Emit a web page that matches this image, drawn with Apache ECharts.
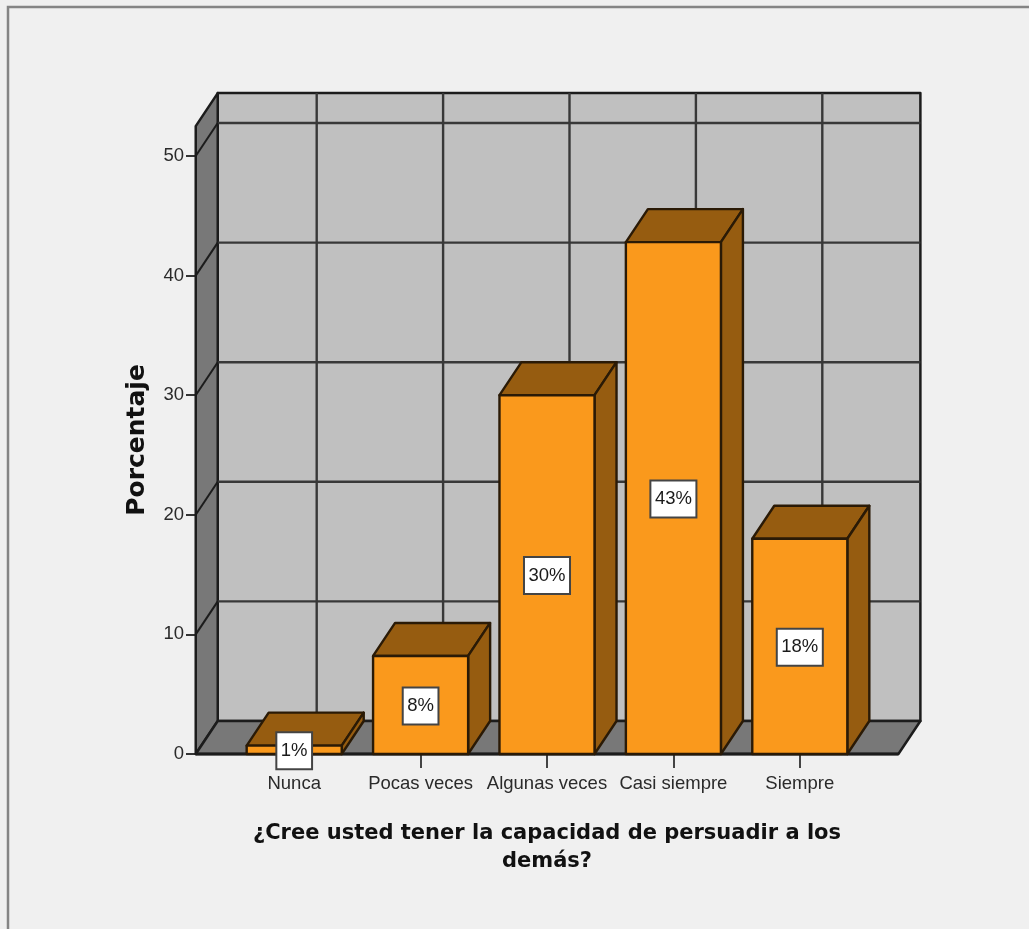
<!DOCTYPE html>
<html><head><meta charset="utf-8">
<style>html,body{margin:0;padding:0;background:#f0f0f0}#c{width:1029px;height:929px}</style>
<script src="https://cdn.jsdelivr.net/npm/echarts@6/dist/echarts.min.js"></script>
</head><body><div id="c"></div>
<script>
const categories = ['Nunca','Pocas veces','Algunas veces','Casi siempre','Siempre'];
const percentages = [0.7, 8.2, 30.0, 42.8, 18.0];
const barLabels = ['1%','8%','30%','43%','18%'];
const yTicks = [0,10,20,30,40,50];
const yWallTop = 52.5;
const xWallLeft = -0.779, xWallRight = 4.78;
const depthX = 22, depthY = -33;
const sans = '"Liberation Sans",sans-serif';
const bold = '"DejaVu Sans",sans-serif';
const edge = '#1c1c1c';

function poly(pts, fill, stroke, lw){
  return {type:'polygon',shape:{points:pts},style:{fill:fill,stroke:stroke,lineWidth:lw,lineJoin:'round'}};
}
function seg(a,b,stroke,lw){
  return {type:'line',shape:{x1:a[0],y1:a[1],x2:b[0],y2:b[1]},style:{stroke:stroke,lineWidth:lw}};
}
function renderWalls(params, api){
  const band = api.size([1,0])[0];
  const x0 = api.coord([0,0])[0];
  const yOf = v => api.coord([0,v])[1];
  const L = x0 + xWallLeft*band, R = x0 + xWallRight*band;
  const b = yOf(0), t = yOf(yWallTop);
  const c = [];
  c.push(poly([[L+depthX,t+depthY],[R+depthX,t+depthY],[R+depthX,b+depthY],[L+depthX,b+depthY]],'#c0c0c0',edge,2.5));
  c.push(poly([[L,b],[L+depthX,b+depthY],[L+depthX,t+depthY],[L,t]],'#787878',edge,2.5));
  c.push(poly([[L,b],[R,b],[R+depthX,b+depthY],[L+depthX,b+depthY]],'#787878',edge,2.5));
  yTicks.slice(1).forEach(v=>{
    const y = yOf(v);
    c.push(seg([L+depthX,y+depthY],[R+depthX,y+depthY],'#383838',2.4));
    c.push(seg([L,y],[L+depthX,y+depthY],edge,2));
  });
  categories.forEach((_,i)=>{
    const x = x0 + i*band + depthX + 0.5;
    c.push(seg([x,t+depthY],[x,b+depthY],'#383838',2.4));
  });
  c.push(seg([L,b],[R,b],edge,3));
  return {type:'group',children:c};
}
function renderBar(params, api){
  const i = api.value(0), v = api.value(1);
  const p = api.coord([i,v]), base = api.coord([i,0]);
  const w = api.size([1,0])[0]*0.752;
  const l = p[0]-w/2, r = p[0]+w/2, t = p[1], b = base[1];
  const side = '#965c10', face = '#fa991c', st = '#2a1a06';
  return {type:'group',children:[
    poly([[l,t],[r,t],[r+depthX,t+depthY],[l+depthX,t+depthY]],side,st,2.4),
    poly([[r,t],[r+depthX,t+depthY],[r+depthX,b+depthY],[r,b]],side,st,2.4),
    poly([[l,t],[r,t],[r,b],[l,b]],face,st,2.4),
    {type:'text',z2:10,style:{text:barLabels[i],x:p[0],y:(t+b)/2+1,align:'center',verticalAlign:'middle',
      font:'18.5px '+sans,fill:'#1a1a1a',backgroundColor:'#fff',borderColor:'#444',borderWidth:2,padding:[8,3.5,8,3.5]}}
  ]};
}
const chart = echarts.init(document.getElementById('c'),null,{renderer:'canvas'});
chart.setOption({
  animation:false,
  backgroundColor:'#f0f0f0',
  graphic:[{type:'rect',z:-1,shape:{x:8,y:7,width:1200,height:1100},style:{fill:'#f0f0f0',stroke:'#858585',lineWidth:2.5},silent:true}],
  grid:{left:231,right:166,top:156,bottom:175},
  xAxis:{type:'category',data:categories,
    name:'¿Cree usted tener la capacidad de persuadir a los\ndemás?',nameLocation:'middle',nameGap:66,
    nameTextStyle:{fontFamily:bold,fontWeight:'bold',fontSize:21,color:'#111',lineHeight:28},
    axisLine:{show:false},
    axisTick:{show:true,alignWithLabel:true,length:14,lineStyle:{color:'#444',width:2}},
    axisLabel:{fontFamily:sans,fontSize:18.5,color:'#2a2a2a',margin:20,interval:0}},
  yAxis:{type:'value',min:0,max:50,interval:10,offset:35,
    name:'Porcentaje',nameLocation:'middle',nameGap:46,nameRotate:90,
    nameTextStyle:{fontFamily:bold,fontWeight:'bold',fontSize:25,color:'#111',padding:[0,0,0,30]},
    axisLine:{show:false},splitLine:{show:false},
    axisTick:{show:true,length:10,lineStyle:{color:'#333',width:2}},
    axisLabel:{fontFamily:sans,fontSize:18.5,color:'#2a2a2a',margin:12,padding:[6,0,0,0]}},
  series:[
    {type:'custom',z:1,silent:true,clip:false,renderItem:renderWalls,data:[[0,0]],encode:{x:0,y:1}},
    {type:'custom',z:3,silent:true,clip:false,renderItem:renderBar,
      data:percentages.map((v,i)=>[i,v]),encode:{x:0,y:1}}
  ]
});
</script></body></html>
